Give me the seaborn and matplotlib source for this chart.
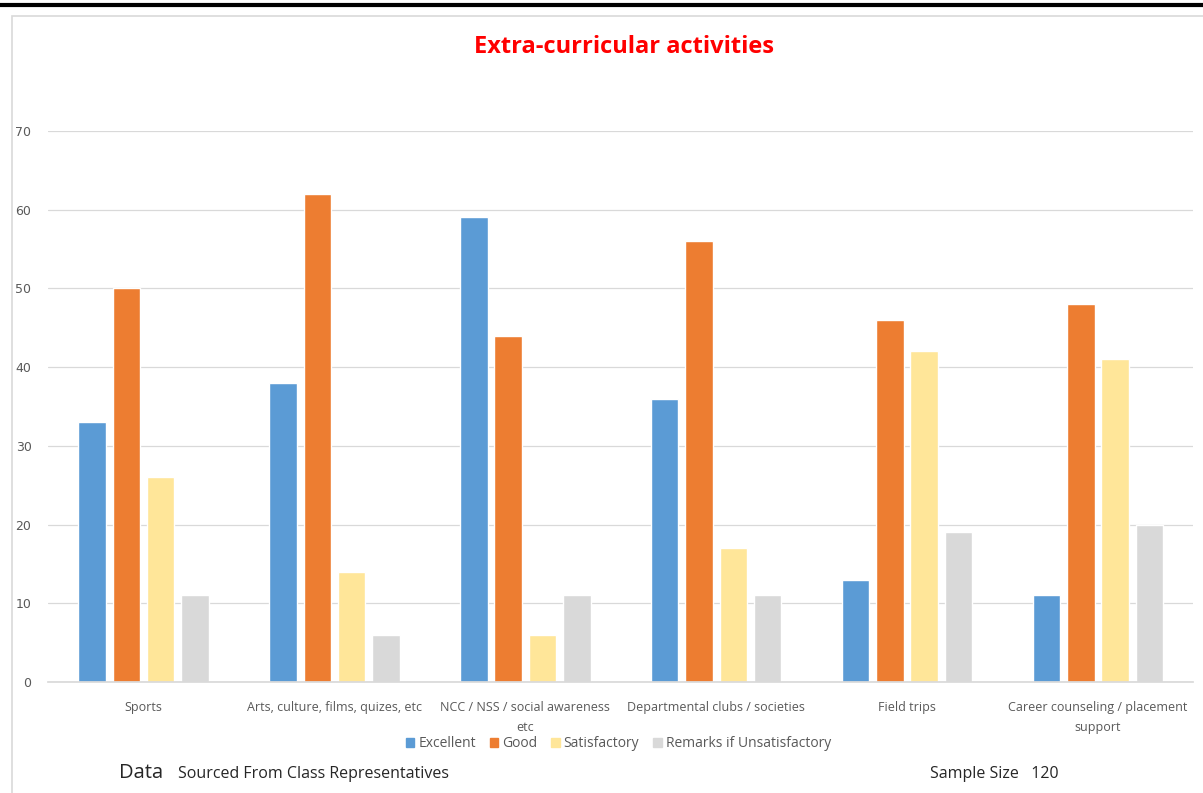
import pandas as pd
import seaborn as sns
import matplotlib.pyplot as plt
from matplotlib.patches import Rectangle
from matplotlib.lines import Line2D

# === DATA ===
activities = [
    "Sports",
    "Arts, culture, films, quizes, etc",
    "NCC / NSS / social awareness\netc",
    "Departmental clubs / societies",
    "Field trips",
    "Career counseling / placement\nsupport",
]
ratings = ["Excellent", "Good", "Satisfactory", "Remarks if Unsatisfactory"]
excellent = [33, 38, 59, 36, 13, 11]
good = [50, 62, 44, 56, 46, 48]
satisfactory = [26, 14, 6, 17, 42, 41]
unsatisfactory = [11, 6, 11, 11, 19, 20]
yticks = [0, 10, 20, 30, 40, 50, 60, 70]

colors = ["#5B9BD5", "#ED7D31", "#FFE699", "#D9D9D9"]

df = pd.DataFrame({
    "Activity": activities * 4,
    "Rating": [r for r in ratings for _ in activities],
    "Count": excellent + good + satisfactory + unsatisfactory,
})

sns.set_theme(style="white")
plt.rcParams["font.family"] = ["Open Sans", "DejaVu Sans"]

fig = plt.figure(figsize=(12.03, 7.93), dpi=100)
ax = fig.add_axes([0.040, 0.140, 0.952, 0.695])

sns.barplot(data=df, x="Activity", y="Count", hue="Rating", order=activities,
            hue_order=ratings, palette=colors, width=0.72, gap=0.2,
            saturation=1, ax=ax, legend=False)

ax.set_ylim(0, 70)
ax.set_yticks(yticks)
ax.yaxis.grid(True, color="#D9D9D9", linewidth=0.9)
ax.set_axisbelow(True)
for s in ["top", "right", "left"]:
    ax.spines[s].set_visible(False)
ax.spines["bottom"].set_color("#D9D9D9")
ax.tick_params(axis="y", labelsize=9, colors="#595959", length=0, pad=12)
ax.tick_params(axis="x", labelsize=9, colors="#595959", length=0, pad=14)
for lbl in ax.get_yticklabels():
    lbl.set_fontfamily("DejaVu Sans")
for lbl in ax.get_xticklabels():
    lbl.set_linespacing(1.7)
ax.set_xlabel("")
ax.set_ylabel("")

# legend below the axis
handles = [Rectangle((0, 0), 1, 1, color=c) for c in colors]
fig.legend(handles, ratings, loc="center", bbox_to_anchor=(0.514, 0.062),
           ncol=4, frameon=False, fontsize=10, handlelength=0.6,
           handleheight=0.6, handletextpad=0.3, columnspacing=1.0,
           labelcolor="#595959")

# title and footer
fig.text(0.519, 0.941, "Extra-curricular activities", ha="center", va="center",
         color="#FF0000", fontsize=17, fontweight="bold")
fig.text(0.099, 0.025, "Data", fontsize=14.5, va="center", color="#262626")
fig.text(0.148, 0.024, "Sourced From Class Representatives", fontsize=11.5,
         va="center", color="#262626")
fig.text(0.773, 0.024, "Sample Size   120", fontsize=11.5, va="center",
         color="#262626")

# chart frame and top rule
fig.patches.append(Rectangle((0.010, -0.01), 1.0, 0.99, transform=fig.transFigure,
                             fill=False, edgecolor="#D9D9D9", linewidth=1.2))
fig.lines.append(Line2D([0, 1], [0.994, 0.994], transform=fig.transFigure,
                        color="black", linewidth=3))

fig.savefig("out.png", dpi=100)
